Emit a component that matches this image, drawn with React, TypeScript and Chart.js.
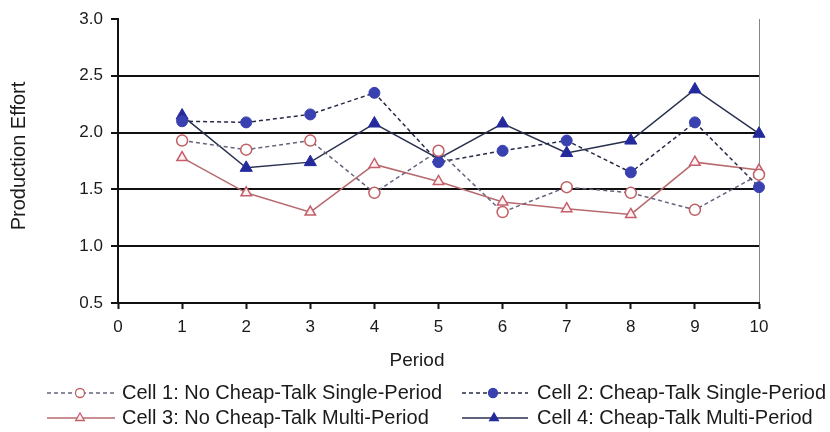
import React, { useEffect, useRef } from 'react';
import { Chart, registerables } from 'chart.js';

Chart.register(...registerables);

const periods = [1, 2, 3, 4, 5, 6, 7, 8, 9, 10];
const cell1 = [1.93, 1.85, 1.93, 1.47, 1.84, 1.30, 1.52, 1.47, 1.32, 1.63];
const cell2 = [2.10, 2.09, 2.16, 2.35, 1.74, 1.84, 1.93, 1.65, 2.09, 1.52];
const cell3 = [1.78, 1.47, 1.30, 1.72, 1.57, 1.39, 1.33, 1.28, 1.74, 1.67];
const cell4 = [2.15, 1.69, 1.74, 2.08, 1.77, 2.08, 1.82, 1.93, 2.38, 1.99];
const seriesLabels = [
  'Cell 1: No Cheap-Talk Single-Period',
  'Cell 2: Cheap-Talk Single-Period',
  'Cell 3: No Cheap-Talk Multi-Period',
  'Cell 4: Cheap-Talk Multi-Period',
];
const xTitle = 'Period';
const yTitle = 'Production Effort';
const yMin = 0.5;
const yMax = 3.0;
const yStep = 0.5;
const xMin = 0;
const xMax = 10;

const FONT = '"Liberation Sans", Arial, sans-serif';

function drawMarker(ctx: CanvasRenderingContext2D, style: string, x: number, y: number, r: number, fill: string, stroke: string, lw: number) {
  ctx.save();
  ctx.beginPath();
  if (style === 'triangle') {
    let rad = 0;
    ctx.moveTo(x + Math.sin(rad) * r, y - Math.cos(rad) * r);
    rad += (2 * Math.PI) / 3;
    ctx.lineTo(x + Math.sin(rad) * r, y - Math.cos(rad) * r);
    rad += (2 * Math.PI) / 3;
    ctx.lineTo(x + Math.sin(rad) * r, y - Math.cos(rad) * r);
    ctx.closePath();
  } else {
    ctx.arc(x, y, r, 0, Math.PI * 2);
  }
  ctx.fillStyle = fill;
  ctx.fill();
  ctx.lineWidth = lw;
  ctx.strokeStyle = stroke;
  ctx.stroke();
  ctx.restore();
}

const legendSlots = [
  { x0: 47, x1: 115, mx: 80, tx: 122, y: 393 },
  { x0: 462, x1: 528, mx: 493, tx: 537, y: 393 },
  { x0: 47, x1: 115, mx: 80, tx: 122, y: 418 },
  { x0: 462, x1: 528, mx: 494, tx: 537, y: 418 },
];

const extrasPlugin = {
  id: 'extras',
  afterDraw(chart: any) {
    const ctx: CanvasRenderingContext2D = chart.ctx;
    ctx.save();
    ctx.fillStyle = '#1a1a1a';
    ctx.textBaseline = 'middle';
    // x title
    ctx.font = `19px ${FONT}`;
    ctx.textAlign = 'center';
    ctx.fillText(xTitle, 417, 361);
    // y title
    ctx.save();
    ctx.translate(19, 156);
    ctx.rotate(-Math.PI / 2);
    ctx.font = `20px ${FONT}`;
    ctx.fillText(yTitle, 0, 0);
    ctx.restore();
    // legend
    chart.data.datasets.forEach((ds: any, i: number) => {
      const s = legendSlots[i];
      ctx.save();
      ctx.strokeStyle = ds.borderColor;
      ctx.lineWidth = 1.5;
      ctx.setLineDash(ds.borderDash || []);
      ctx.beginPath();
      ctx.moveTo(s.x0, s.y);
      ctx.lineTo(s.x1, s.y);
      ctx.stroke();
      ctx.restore();
      drawMarker(ctx, ds.pointStyle, s.mx, s.y, ds.pointStyle === 'triangle' ? 5 : 4.5, ds.pointBackgroundColor, ds.pointBorderColor, 1.3);
      ctx.font = `20px ${FONT}`;
      ctx.textAlign = 'left';
      ctx.fillStyle = '#1a1a1a';
      ctx.fillText(ds.label, s.tx, s.y);
    });
    ctx.restore();
  },
};

function toPoints(vals: number[]) {
  return vals.map((v, i) => ({ x: periods[i], y: v }));
}

export default function App() {
  const ref = useRef<HTMLCanvasElement | null>(null);
  useEffect(() => {
    if (!ref.current) return;
    const chart = new Chart(ref.current, {
      type: 'line',
      data: {
        datasets: [
          {
            label: seriesLabels[0],
            data: toPoints(cell1),
            borderColor: '#66637c',
            borderWidth: 1.5,
            borderDash: [4, 3],
            pointStyle: 'circle',
            pointRadius: 5.5,
            pointBorderWidth: 1.5,
            pointBackgroundColor: '#ffffff',
            pointBorderColor: '#bf5f63',
            clip: false,
          } as any,
          {
            label: seriesLabels[1],
            data: toPoints(cell2),
            borderColor: '#262a48',
            borderWidth: 1.5,
            borderDash: [4, 3],
            pointStyle: 'circle',
            pointRadius: 5.5,
            pointBorderWidth: 1,
            pointBackgroundColor: '#3940b0',
            pointBorderColor: '#3940b0',
            clip: false,
          } as any,
          {
            label: seriesLabels[2],
            data: toPoints(cell3),
            borderColor: '#b86a6e',
            borderWidth: 1.5,
            pointStyle: 'triangle',
            pointRadius: 6,
            pointBorderWidth: 1.5,
            pointBackgroundColor: '#fff2f3',
            pointBorderColor: '#c4606c',
            clip: false,
          } as any,
          {
            label: seriesLabels[3],
            data: toPoints(cell4),
            borderColor: '#28304f',
            borderWidth: 1.5,
            pointStyle: 'triangle',
            pointRadius: 7,
            pointBorderWidth: 1,
            pointBackgroundColor: '#242a9c',
            pointBorderColor: '#242a9c',
            clip: false,
          } as any,
        ],
      },
      options: {
        animation: false,
        responsive: false,
        maintainAspectRatio: false,
        layout: { padding: { top: 19, right: 71, left: 0, bottom: 0 } },
        plugins: {
          legend: { display: false },
          tooltip: { enabled: false },
        },
        elements: { line: { tension: 0 } },
        scales: {
          x: {
            type: 'linear',
            min: xMin,
            max: xMax,
            afterFit: (s: any) => {
              s.height = 129;
            },
            ticks: {
              stepSize: 1,
              padding: 8,
              color: '#1a1a1a',
              font: { family: FONT, size: 17 },
              callback: (v: any) => String(v),
            },
            grid: {
              color: (c: any) => (c.tick && c.tick.value === xMax ? '#7d8a8a' : 'rgba(0,0,0,0)'),
              lineWidth: 1,
              tickColor: '#111111',
              tickLength: 6,
              tickWidth: 2,
            },
            border: { display: true, color: '#111111', width: 2 },
          },
          y: {
            type: 'linear',
            min: yMin,
            max: yMax,
            afterFit: (s: any) => {
              s.width = 118;
            },
            ticks: {
              stepSize: yStep,
              padding: 8,
              color: '#1a1a1a',
              font: { family: FONT, size: 17 },
              callback: (v: any) => Number(v).toFixed(1),
            },
            grid: {
              color: (c: any) => (c.tick && c.tick.value === yMax ? 'rgba(0,0,0,0)' : '#111111'),
              lineWidth: 2,
              tickColor: '#111111',
              tickLength: 7,
              tickWidth: 2,
            },
            border: { display: true, color: '#111111', width: 2 },
          },
        },
      } as any,
      plugins: [extrasPlugin],
    });
    return () => chart.destroy();
  }, []);
  return (
    <div style={{ position: 'absolute', left: 0, top: 0, width: 830, height: 432, background: '#ffffff' }}>
      <canvas ref={ref} width={830} height={432} style={{ display: 'block' }} />
    </div>
  );
}
